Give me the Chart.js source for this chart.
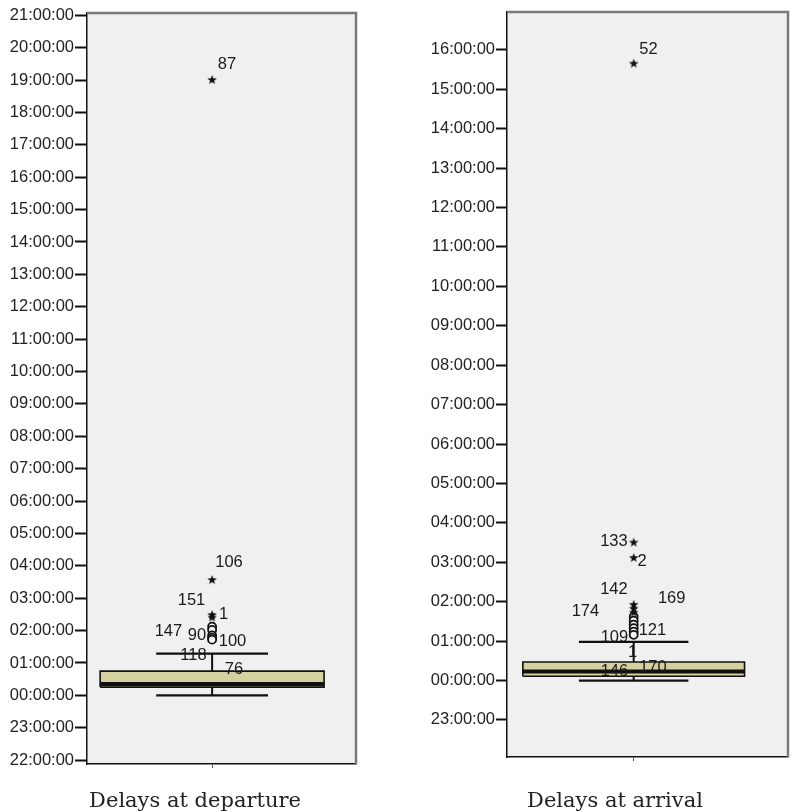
<!DOCTYPE html>
<html>
<head>
<meta charset="utf-8">
<script src="https://cdn.jsdelivr.net/npm/chart.js@4.4.1/dist/chart.umd.min.js"></script>
<style>
  body { margin: 0; background: #fff; width: 794px; height: 812px; position: relative; overflow: hidden; }
  canvas { position: absolute; top: 0; }
  .cat { position: absolute; top: 790px; font: 21px "DejaVu Serif", serif; line-height: 21px;
         color: #222; white-space: nowrap; transform: translateX(-50%); }
</style>
</head>
<body>
<canvas id="dep" width="400" height="812" style="left:0"></canvas>
<canvas id="arr" width="394" height="812" style="left:400px"></canvas>
<div class="cat" id="catDep" style="left:195px"></div>
<div class="cat" id="catArr" style="left:615px"></div>
<script>
// categories
const categories = ['Delays at departure', 'Delays at arrival'];

// box stats in hours: lower whisker, Q1, median, Q3, upper whisker
const depBox = [0.0, 0.255, 0.35, 0.749, 1.29];
const arrBox = [0.0, 0.11, 0.23, 0.47, 0.98];

// extreme (star) and outlier (circle) values, hours
const depStars = [19.0, 3.56, 2.48, 2.40];
const depCircles = [2.12, 2.02, 1.85, 1.78, 1.72];
const arrStars = [15.65, 3.50, 3.11, 1.92, 1.82, 1.72];
const arrCircles = [1.62, 1.52, 1.42, 1.33, 1.24, 1.16];

// case number labels and where they sit (x in category units, y in hours)
const depIds = ['87', '106', '151', '1', '147', '90', '100', '118', '76'];
const depIdX = [1.119, 1.135, 0.835, 1.091, 0.651, 0.879, 1.163, 0.851, 1.175];
const depIdY = [19.49, 4.11, 2.94, 2.51, 1.98, 1.86, 1.65, 1.24, 0.81];
const arrIds = ['52', '133', '2', '142', '174', '169', '121', '109', '1', '146', '170'];
const arrIdX = [1.117, 0.844, 1.066, 0.844, 0.619, 1.300, 1.148, 0.848, 0.992, 0.848, 1.152];
const arrIdY = [16.0, 3.54, 3.03, 2.30, 1.76, 2.07, 1.26, 1.10, 0.70, 0.22, 0.32];

// tick labels, top to bottom, one hour apart
const depTicks = ['21:00:00', '20:00:00', '19:00:00', '18:00:00', '17:00:00', '16:00:00', '15:00:00',
  '14:00:00', '13:00:00', '12:00:00', '11:00:00', '10:00:00', '09:00:00', '08:00:00', '07:00:00',
  '06:00:00', '05:00:00', '04:00:00', '03:00:00', '02:00:00', '01:00:00', '00:00:00', '23:00:00', '22:00:00'];
const arrTicks = ['16:00:00', '15:00:00', '14:00:00', '13:00:00', '12:00:00', '11:00:00', '10:00:00',
  '09:00:00', '08:00:00', '07:00:00', '06:00:00', '05:00:00', '04:00:00', '03:00:00', '02:00:00',
  '01:00:00', '00:00:00', '23:00:00'];

const depRange = [-2.12, 21.07];
const arrRange = [-1.94, 16.96];

document.getElementById('catDep').textContent = categories[0];
document.getElementById('catArr').textContent = categories[1];

function starImg(r) {
  const c = document.createElement('canvas');
  c.width = c.height = 2 * r + 2;
  const g = c.getContext('2d');
  g.fillStyle = '#111';
  g.beginPath();
  for (let i = 0; i < 10; i++) {
    const a = -Math.PI / 2 + i * Math.PI / 5;
    const rr = i % 2 ? r * 0.42 : r;
    g.lineTo(r + 1 + rr * Math.cos(a), r + 1 + rr * Math.sin(a));
  }
  g.closePath();
  g.fill();
  return c;
}
const star = starImg(5);

const framePlugin = {
  id: 'frame',
  beforeDraw(chart) {
    const { ctx, chartArea: a } = chart;
    ctx.save();
    ctx.fillStyle = '#f0f0f0';
    ctx.fillRect(a.left, a.top, a.width, a.height);
    ctx.restore();
  },
  afterDraw(chart) {
    const { ctx, chartArea: a } = chart;
    ctx.save();
    ctx.strokeStyle = '#7a7a7a';
    ctx.lineWidth = 2.5;
    ctx.beginPath();
    ctx.moveTo(a.left, a.top);
    ctx.lineTo(a.right, a.top);
    ctx.lineTo(a.right, a.bottom);
    ctx.stroke();
    ctx.restore();
  }
};

function idPlugin(ids, xs, ys) {
  return {
    id: 'ids',
    afterDatasetsDraw(chart) {
      const { ctx, scales: { x, y } } = chart;
      ctx.save();
      ctx.font = '16.5px "Liberation Sans", Arial, sans-serif';
      ctx.fillStyle = '#1a1a1a';
      ctx.textAlign = 'center';
      ctx.textBaseline = 'middle';
      ids.forEach((t, i) => ctx.fillText(t, x.getPixelForValue(xs[i]), y.getPixelForValue(ys[i])));
      ctx.restore();
    }
  };
}

function line(pts, w) {
  return { data: pts, showLine: true, borderColor: '#111', borderWidth: w, pointRadius: 0, fill: false };
}

function boxPlot(id, o) {
  const [lw, q1, med, q3, uw] = o.box;
  const bh = o.boxHalf, wh = o.whiskHalf;
  const top = parseInt(o.ticks[0], 10);
  const tickVals = o.ticks.map((t, i) => top - i);
  const tickLabel = {};
  tickVals.forEach((v, i) => { tickLabel[v] = o.ticks[i]; });

  new Chart(document.getElementById(id), {
    type: 'scatter',
    data: {
      datasets: [
        { data: o.stars.map(v => ({ x: 1, y: v })), pointStyle: star, pointRadius: 5 },
        { data: o.circles.map(v => ({ x: 1, y: v })), pointStyle: 'circle', pointRadius: 4,
          borderWidth: 1.8, borderColor: '#111', backgroundColor: '#f4f4f4' },
        line([{ x: 1 - bh, y: med }, { x: 1 + bh, y: med }], 4),
        { data: [{ x: 1 - bh, y: q1 }, { x: 1 + bh, y: q1 }, { x: 1 + bh, y: q3 }, { x: 1 - bh, y: q3 }, { x: 1 - bh, y: q1 }],
          showLine: true, borderColor: '#111', borderWidth: 1.6, pointRadius: 0,
          fill: 'shape', backgroundColor: '#d5d09f' },
        line([{ x: 1, y: q3 }, { x: 1, y: uw }], 2),
        line([{ x: 1 - wh, y: uw }, { x: 1 + wh, y: uw }], 2.2),
        line([{ x: 1, y: q1 }, { x: 1, y: lw }], 2),
        line([{ x: 1 - wh, y: lw }, { x: 1 + wh, y: lw }], 2.2)
      ]
    },
    options: {
      responsive: false,
      animation: false,
      layout: { padding: o.padding },
      plugins: { legend: { display: false }, tooltip: { enabled: false } },
      scales: {
        x: {
          type: 'linear', min: 0, max: o.xMax,
          afterBuildTicks: s => { s.ticks = [{ value: 1 }]; },
          afterFit: s => { s.height = 8; },
          ticks: { display: false },
          grid: { drawOnChartArea: false, tickLength: 4, tickWidth: 1, tickColor: '#555' },
          border: { color: '#111', width: 1.5 }
        },
        y: {
          type: 'linear', min: o.range[0], max: o.range[1],
          afterBuildTicks: s => { s.ticks = tickVals.map(v => ({ value: v })); },
          afterFit: s => { s.width = o.yWidth; },
          ticks: {
            autoSkip: false, padding: 1, color: '#222',
            font: { family: '"Liberation Sans", Arial, sans-serif', size: 16.5 },
            callback: v => tickLabel[v]
          },
          grid: { drawOnChartArea: false, tickLength: o.tickLen, tickWidth: 2, tickColor: '#111' },
          border: { color: '#111', width: 1.5 }
        }
      }
    },
    plugins: [framePlugin, idPlugin(o.ids, o.idX, o.idY)]
  });
}

boxPlot('dep', {
  box: depBox, stars: depStars, circles: depCircles,
  ids: depIds, idX: depIdX, idY: depIdY, ticks: depTicks, range: depRange,
  xMax: 2.15, boxHalf: 0.895, whiskHalf: 0.447,
  yWidth: 87, tickLen: 12, padding: { top: 13, right: 44, bottom: 40, left: 0 }
});
boxPlot('arr', {
  box: arrBox, stars: arrStars, circles: arrCircles,
  ids: arrIds, idX: arrIdX, idY: arrIdY, ticks: arrTicks, range: arrRange,
  xMax: 2.218, boxHalf: 0.875, whiskHalf: 0.432,
  yWidth: 107, tickLen: 11, padding: { top: 12, right: 2, bottom: 47, left: 0 }
});
</script>
</body>
</html>
